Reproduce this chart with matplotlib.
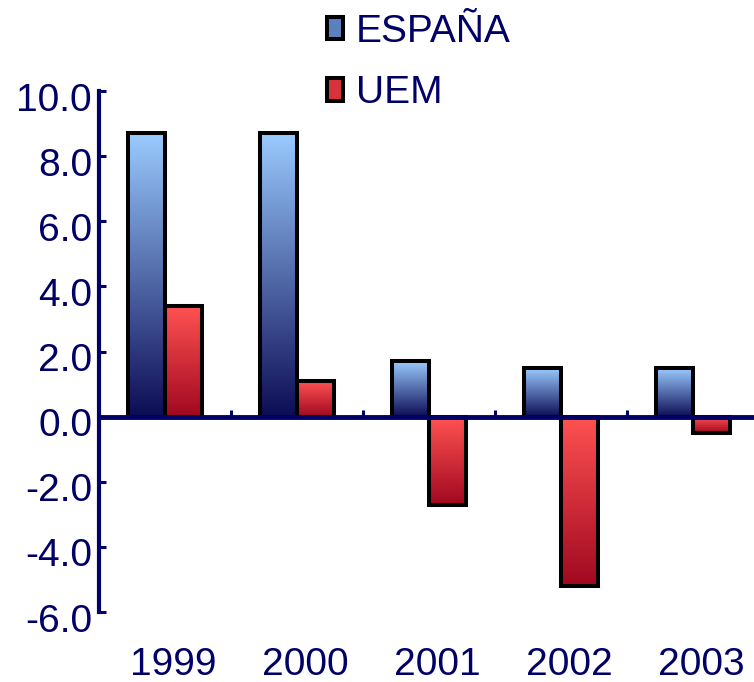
import numpy as np
import matplotlib
matplotlib.use('Agg')
import matplotlib.pyplot as plt
from matplotlib.colors import LinearSegmentedColormap
from matplotlib.patches import Patch
from matplotlib.transforms import ScaledTranslation

plt.rcParams['font.family'] = ['Liberation Sans', 'DejaVu Sans']

years = ['1999', '2000', '2001', '2002', '2003']
espana = [8.7, 8.7, 1.7, 1.5, 1.5]
uem = [3.4, 1.1, -2.7, -5.2, -0.5]
series_names = ['ESPAÑA', 'UEM']
yticks = np.arange(-6, 10.1, 2)

navy = '#000066'
# gradient ends: (bottom colour, top colour)
blue_grad = ('#0c0c55', '#9acbff')
red_grad = ('#a00820', '#ff5252')

fig = plt.figure(figsize=(7.54, 6.82), dpi=100)
ax = fig.add_axes([99 / 754, 70 / 682, 660 / 754, 521 / 682])

x = np.arange(len(years))
w = 0.28
bars_e = ax.bar(x - w / 2, espana, w, fill=False, edgecolor='black', lw=2.9, zorder=3)
bars_u = ax.bar(x + w / 2, uem, w, fill=False, edgecolor='black', lw=2.9, zorder=3)

grad = np.linspace(0, 1, 256).reshape(-1, 1)
for bars, cols in [(bars_e, blue_grad), (bars_u, red_grad)]:
    cmap = LinearSegmentedColormap.from_list('g', list(cols))
    for p in bars.patches:
        x0, y0 = p.get_x(), p.get_y()
        x1, y1 = x0 + p.get_width(), y0 + p.get_height()
        ax.imshow(grad, extent=(x0, x1, min(y0, y1), max(y0, y1)), origin='lower',
                  cmap=cmap, aspect='auto', zorder=2, interpolation='bilinear')

ax.set_xlim(-0.5, len(years) - 0.5)
ax.set_ylim(yticks[0], yticks[-1])

for s in ['top', 'right', 'bottom']:
    ax.spines[s].set_visible(False)
ax.spines['left'].set_color(navy)
ax.spines['left'].set_linewidth(3)

ax.set_yticks(yticks)
ax.set_yticklabels(['%.1f' % v for v in yticks])
ax.tick_params(axis='y', direction='in', length=5, width=2.2, colors=navy,
               labelsize=28, pad=5)
for lab in ax.get_yticklabels():
    lab.set_transform(lab.get_transform() + ScaledTranslation(0, -4 / 72, fig.dpi_scale_trans))

ax.set_xticks(x)
ax.set_xticklabels(years)
ax.tick_params(axis='x', length=0, colors=navy, labelsize=28, pad=25)
for lab in ax.get_xticklabels():
    lab.set_transform(lab.get_transform() + ScaledTranslation(6 / 72, 0, fig.dpi_scale_trans))

# zero line with small ticks between the years
zero_pos = -yticks[0] / (yticks[-1] - yticks[0])
sec = ax.secondary_xaxis(zero_pos)
sec.spines['bottom'].set_color(navy)
sec.spines['bottom'].set_linewidth(3.5)
sec.set_xticks(x[:-1] + 0.5)
sec.tick_params(direction='in', length=5, width=2.2, color=navy, labelbottom=False)
sec.set_zorder(4)

handles = [Patch(facecolor='#5a80bd', edgecolor='black', lw=2.9),
           Patch(facecolor='#d8323a', edgecolor='black', lw=2.9)]
fig.legend(handles, series_names, loc='upper left', bbox_to_anchor=(327 / 754, 1 - 14 / 682),
           frameon=False, fontsize=28, labelcolor=navy, handlelength=0.4, handleheight=0.5,
           handletextpad=0.35, labelspacing=0.65, borderpad=0, borderaxespad=0)

fig.savefig('out.png', dpi=100)
